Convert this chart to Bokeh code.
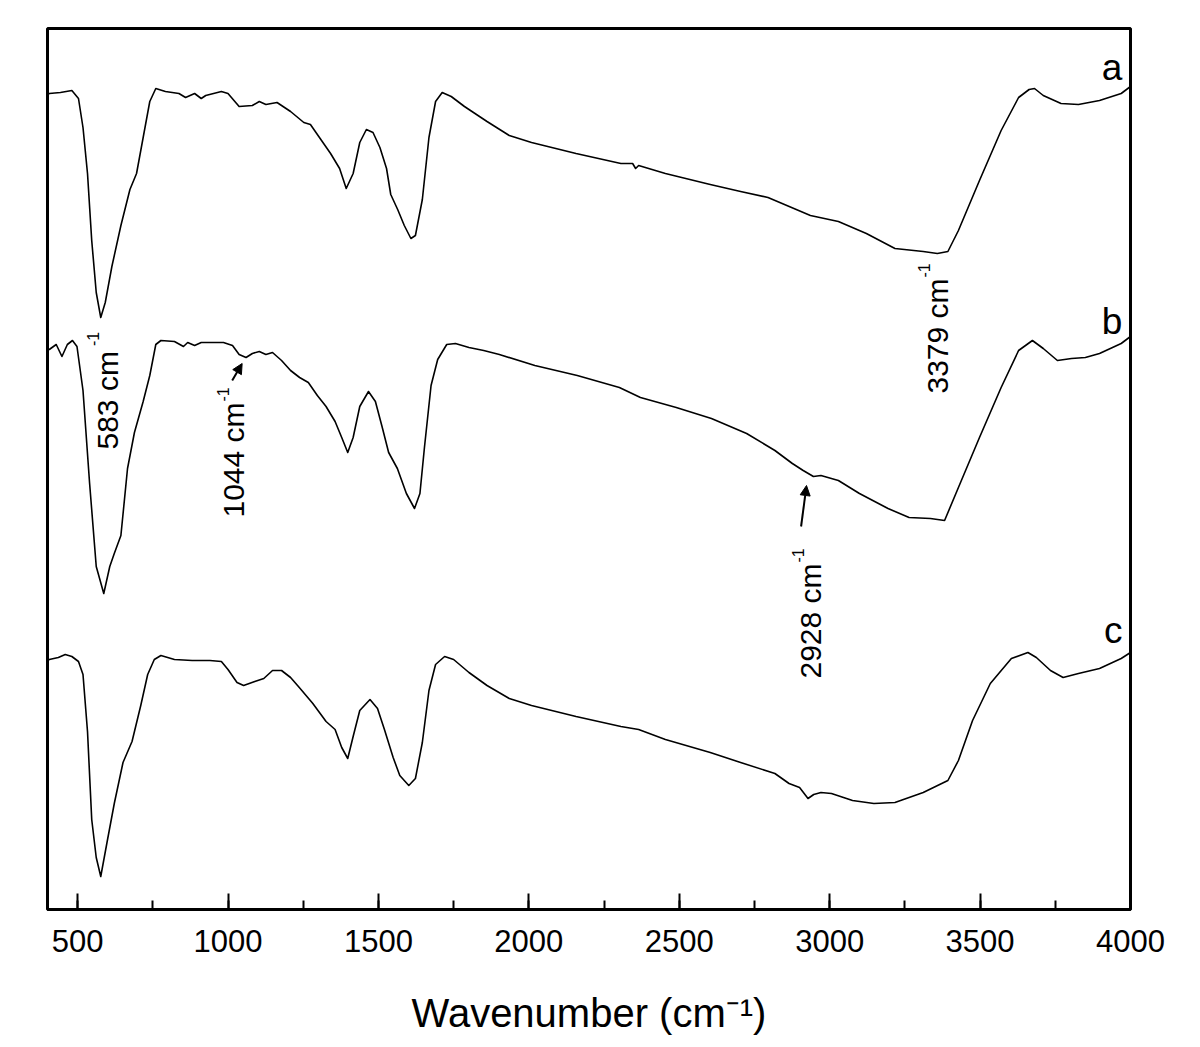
import math
from bokeh.plotting import figure
from bokeh.models import Range1d, SingleIntervalTicker, Label, Arrow, NormalHead
from bokeh.embed import file_html
from bokeh.resources import INLINE

FONT = "Liberation Sans"

# ---- data (wavenumber in cm^-1, transmittance in a.u.) ----
wn_a = [400, 406, 443, 481, 503, 518, 533, 547, 562, 577, 592, 614, 644, 674, 696, 718, 740, 760,
        792, 837, 859, 889, 911, 926, 978, 1000, 1037, 1081, 1104, 1126, 1163, 1208, 1252, 1274,
        1304, 1341, 1371, 1393, 1416, 1438, 1460, 1482, 1505, 1527, 1541, 1564, 1586, 1608, 1623,
        1646, 1668, 1690, 1712, 1742, 1786, 1861, 1935, 2009, 2157, 2306, 2345, 2355, 2365, 2454,
        2603, 2704, 2795, 2936, 3029, 3122, 3217, 3311, 3358, 3393, 3428, 3498, 3570, 3628, 3663,
        3681, 3710, 3769, 3827, 3897, 3969, 4000]
t_a = [81.5, 81.6, 81.7, 81.9, 81.1, 78.2, 73.6, 66.9, 61.7, 59.2, 60.7, 64.3, 68.4, 72.0, 73.6,
       77.2, 80.8, 82.1, 81.8, 81.6, 81.2, 81.6, 81.1, 81.4, 81.8, 81.6, 80.3, 80.4, 80.8, 80.5,
       80.7, 79.8, 78.7, 78.5, 77.2, 75.6, 74.1, 72.1, 73.6, 76.7, 78.0, 77.7, 76.2, 74.1, 71.5,
       70.0, 68.4, 67.1, 67.4, 71.0, 77.2, 80.8, 81.7, 81.3, 80.3, 78.8, 77.4, 76.7, 75.6, 74.6,
       74.6, 74.1, 74.4, 73.6, 72.5, 71.8, 71.2, 69.4, 68.8, 67.6, 66.1, 65.8, 65.6, 65.8, 67.9,
       72.9, 77.9, 81.2, 82.0, 82.1, 81.4, 80.6, 80.5, 80.9, 81.6, 82.3]

wn_b = [400, 406, 429, 448, 466, 483, 498, 518, 540, 562, 587, 607, 622, 644, 666, 689, 718, 740,
        760, 777, 822, 852, 866, 889, 911, 940, 985, 1015, 1037, 1060, 1081, 1104, 1126, 1148,
        1178, 1208, 1238, 1267, 1297, 1326, 1356, 1378, 1398, 1416, 1438, 1467, 1490, 1512, 1534,
        1563, 1593, 1620, 1638, 1653, 1675, 1697, 1727, 1756, 1801, 1850, 1902, 2020, 2161, 2301,
        2371, 2490, 2607, 2724, 2818, 2876, 2912, 2946, 2971, 3029, 3099, 3194, 3264, 3335, 3382,
        3428, 3498, 3570, 3628, 3674, 3710, 3757, 3804, 3850, 3897, 3969, 4000]
t_b = [56.0, 56.0, 56.5, 55.3, 56.5, 56.9, 56.3, 51.9, 42.6, 34.3, 31.6, 34.3, 35.6, 37.4, 44.1,
       47.7, 50.8, 53.4, 56.5, 56.9, 56.8, 56.3, 56.7, 56.4, 56.7, 56.7, 56.7, 56.4, 55.5, 55.2,
       55.6, 55.8, 55.5, 55.7, 54.9, 53.9, 53.2, 52.7, 51.4, 50.3, 48.8, 47.2, 45.7, 47.2, 50.3,
       51.8, 50.8, 48.3, 45.7, 44.1, 41.6, 40.1, 41.6, 46.2, 52.4, 55.0, 56.5, 56.6, 56.2, 55.9,
       55.5, 54.4, 53.4, 52.2, 51.2, 50.2, 49.1, 47.6, 45.9, 44.6, 43.9, 43.3, 43.4, 42.9, 41.6,
       40.1, 39.2, 39.1, 38.9, 42.2, 47.2, 52.2, 55.9, 56.9, 56.1, 54.9, 55.1, 55.2, 55.6, 56.6,
       57.3]

wn_c = [400, 406, 436, 459, 481, 503, 518, 533, 547, 562, 577, 599, 622, 651, 681, 710, 733, 755,
        777, 822, 881, 940, 978, 1000, 1030, 1052, 1089, 1119, 1148, 1178, 1208, 1237, 1282, 1326,
        1356, 1378, 1398, 1416, 1438, 1472, 1497, 1520, 1549, 1571, 1601, 1623, 1646, 1668, 1690,
        1720, 1750, 1801, 1861, 1935, 2009, 2157, 2306, 2365, 2454, 2603, 2704, 2818, 2865, 2900,
        2928, 2947, 2971, 3006, 3076, 3147, 3217, 3311, 3393, 3428, 3475, 3534, 3604, 3659, 3687,
        3734, 3776, 3827, 3897, 3969, 4000]
t_c = [24.9, 25.0, 25.2, 25.5, 25.3, 24.8, 23.5, 17.8, 9.0, 5.2, 3.3, 6.9, 10.6, 14.7, 16.8, 20.4,
       23.5, 25.0, 25.4, 25.0, 24.9, 24.9, 24.8, 24.0, 22.7, 22.4, 22.8, 23.1, 23.9, 23.9, 23.2,
       22.2, 20.6, 18.8, 18.0, 16.2, 15.1, 17.3, 19.9, 21.0, 20.1, 18.0, 15.2, 13.4, 12.4, 13.1,
       16.7, 21.9, 24.5, 25.3, 25.0, 23.7, 22.4, 21.1, 20.4, 19.3, 18.3, 18.0, 17.0, 15.7, 14.7,
       13.6, 12.6, 12.2, 11.1, 11.5, 11.7, 11.6, 10.9, 10.6, 10.7, 11.7, 12.9, 14.9, 18.9, 22.6,
       25.1, 25.7, 25.2, 23.9, 23.2, 23.6, 24.1, 25.1, 25.7]

curve_names = ["a", "b", "c"]
curve_label_y = [84.2, 58.8, 27.9]
x_ticks_major = 500

# peak annotations: (main text, x, y of text start, superscript x, superscript y)
peak_labels = [("583 cm", 598, 46.0, 551, 56.35),
               ("1044 cm", 1018, 39.2, 984, 50.8),
               ("2928 cm", 2936, 23.1, 2896, 34.7),
               ("3379 cm", 3360, 51.6, 3313, 63.2)]
arrows = [(1014, 52.9, 1047, 54.6), (2905, 38.3, 2923, 42.4)]

p = figure(width=1190, height=1040, output_backend="svg", toolbar_location=None,
           x_range=Range1d(400, 4000), y_range=Range1d(0, 88.1), y_axis_location=None,
           min_border_left=47, min_border_right=60, min_border_top=28, min_border_bottom=131)
p.background_fill_color = "white"
p.border_fill_color = "white"
p.outline_line_color = "black"
p.outline_line_width = 3
p.xgrid.visible = False
p.ygrid.visible = False

for wn, t in [(wn_a, t_a), (wn_b, t_b), (wn_c, t_c)]:
    p.line(wn, t, line_color="black", line_width=1.6, line_join="round")

ax = p.xaxis[0]
ax.ticker = SingleIntervalTicker(interval=x_ticks_major, num_minor_ticks=2)
ax.axis_line_width = 3
ax.axis_line_color = "black"
ax.major_tick_in = 16
ax.major_tick_out = 0
ax.minor_tick_in = 9
ax.minor_tick_out = 0
ax.major_tick_line_width = 2
ax.minor_tick_line_width = 2
ax.major_tick_line_color = "black"
ax.minor_tick_line_color = "black"
ax.major_label_text_font = FONT
ax.major_label_text_font_size = "31px"
ax.major_label_text_color = "black"
ax.major_label_standoff = 20
ax.axis_label = "Wavenumber (cm\u207b\u00b9)"
ax.axis_label_text_font = FONT
ax.axis_label_text_font_size = "40px"
ax.axis_label_text_font_style = "normal"
ax.axis_label_text_color = "black"
ax.axis_label_standoff = 36

# curve labels a, b, c
for name, yy in zip(curve_names, curve_label_y):
    p.add_layout(Label(x=3973, y=yy, text=name,
                       text_font=FONT, text_font_size="37px", text_color="black",
                       text_align="right", text_baseline="alphabetic"))

# peak annotations (vertical)
for txt, x0, y0, sx, sy in peak_labels:
    p.add_layout(Label(x=x0, y=y0, text=txt, angle=math.pi / 2, text_font=FONT,
                       text_font_size="30px", text_color="black",
                       text_align="left", text_baseline="middle"))
    p.add_layout(Label(x=sx, y=sy, text="-1", angle=math.pi / 2, text_font=FONT,
                       text_font_size="16px", text_color="black",
                       text_align="left", text_baseline="middle"))

for x0, y0, x1, y1 in arrows:
    p.add_layout(Arrow(x_start=x0, y_start=y0, x_end=x1, y_end=y1, line_width=2,
                       line_color="black",
                       end=NormalHead(size=10, fill_color="black", line_color="black")))

open("out.html", "w").write(file_html(p, INLINE))
